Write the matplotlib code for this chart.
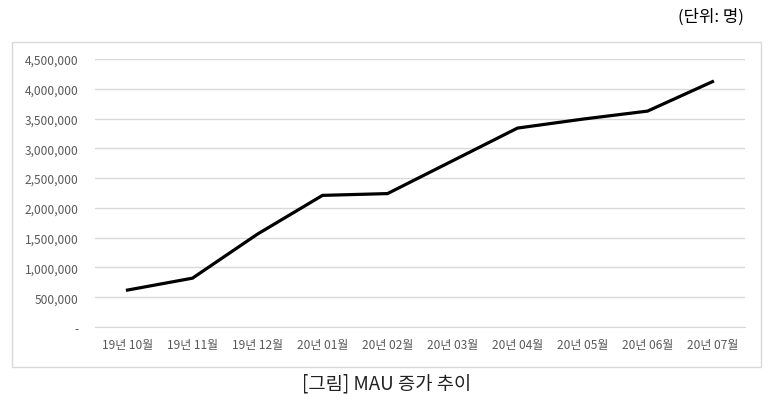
import matplotlib
matplotlib.use("Agg")
from matplotlib import pyplot as plt
from matplotlib.patches import Rectangle
from matplotlib.ticker import FuncFormatter

plt.rcParams['font.family'] = ['Noto Sans CJK KR', 'DejaVu Sans']

months = ["19년 10월", "19년 11월", "19년 12월", "20년 01월", "20년 02월",
          "20년 03월", "20년 04월", "20년 05월", "20년 06월", "20년 07월"]
mau = [620000, 820000, 1560000, 2210000, 2240000,
       2790000, 3340000, 3490000, 3625000, 4120000]
yticks = [0, 500000, 1000000, 1500000, 2000000, 2500000,
          3000000, 3500000, 4000000, 4500000]

W, H = 774, 406
fig = plt.figure(figsize=(W / 100, H / 100), dpi=100)
ax = fig.add_axes([95 / W, 1 - 328 / H, 650 / W, 268 / H])

# outer chart frame
fig.patches.append(Rectangle((12 / W, 1 - 368 / H), 749 / W, 325 / H,
                             transform=fig.transFigure, fill=False,
                             edgecolor='#d9d9d9', linewidth=1))

x = range(len(months))
ax.plot(x, mau, color='black', linewidth=2.3, solid_joinstyle='miter')

ax.set_xlim(-0.5, len(months) - 0.5)
ax.set_ylim(0, 4500000)
ax.set_yticks(yticks)
ax.yaxis.set_major_formatter(FuncFormatter(lambda v, p: '-' if v == 0 else f'{int(v):,}'))
ax.set_xticks(list(x))
ax.set_xticklabels(months)
ax.grid(axis='y', color='#d9d9d9', linewidth=1)
ax.set_axisbelow(True)
for s in ['top', 'right', 'left']:
    ax.spines[s].set_visible(False)
ax.spines['bottom'].set_color('#d9d9d9')
ax.tick_params(length=0, labelsize=8.6, colors='#595959')
ax.tick_params(axis='y', pad=12)
ax.tick_params(axis='x', pad=8)

fig.text(711 / W, 1 - 17 / H, "(단위: 명)", ha='center', va='center', fontsize=12)
fig.text(387 / W, 1 - 384 / H, "[그림] MAU 증가 추이", ha='center', va='center',
         fontsize=13.5, fontweight='light', color='#222222')

plt.savefig("out.png", dpi=100)
